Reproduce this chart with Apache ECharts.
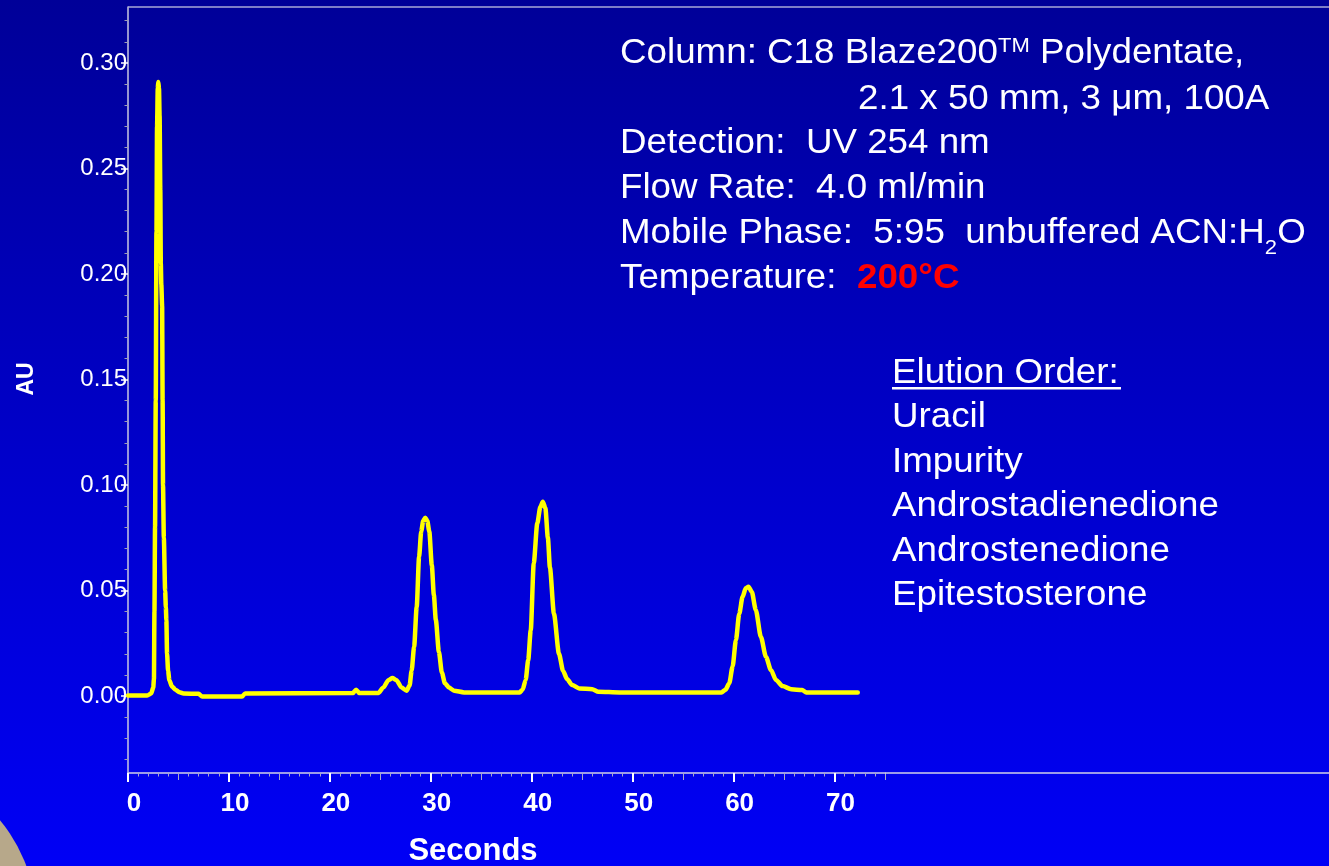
<!DOCTYPE html>
<html>
<head>
<meta charset="utf-8">
<script src="https://cdn.jsdelivr.net/npm/echarts@6/dist/echarts.min.js"></script>
<style>
html,body{margin:0;padding:0;overflow:hidden;}
#chart{width:1329px;height:866px;background:linear-gradient(to bottom,#000098 0%,#0000c8 50%,#0000f6 100%);}
</style>
</head>
<body>
<div id="chart"></div>
<script>
// ---- data (seconds, AU) ----
const timeSec = [
  0, 1.9, 2.3, 2.5, 2.57, 2.62, 2.68, 2.75, 2.82, 2.88, 2.95, 3.0, 3.07, 3.13, 3.2, 3.25, 3.3, 3.38, 3.43, 3.47,
  3.55, 3.68, 3.75, 3.8, 3.87, 3.97, 4.1, 4.35, 4.7, 5.1, 5.5, 7.0, 7.35, 11.3, 11.6,
  22.3, 22.6, 22.9, 24.8, 25.3, 25.8, 26.2, 26.6, 27.1, 27.6,
  27.9, 28.1, 28.35, 28.6, 28.84, 29.05, 29.25, 29.45, 29.65, 29.85, 30.1, 30.3, 30.5, 30.8, 31.1, 31.4, 31.8, 32.3, 33.3,
  38.8, 39.1, 39.4, 39.65, 39.9, 40.2, 40.55, 40.85, 41.1, 41.35, 41.6, 41.8, 42.2, 42.7, 43.1, 43.5, 44.0, 44.7, 46.0, 46.6, 48.7,
  58.8, 59.2, 59.57, 59.9, 60.23, 60.56, 60.89, 61.2, 61.48, 61.8, 62.2, 62.7, 63.2, 63.7, 64.2, 64.85, 65.7, 66.8, 67.2, 72.3
];
const absorbanceAU = [
  0.0002, 0.0002, 0.0012, 0.004, 0.008, 0.04, 0.08, 0.14, 0.22, 0.27, 0.288, 0.291, 0.288, 0.275, 0.24, 0.205, 0.195, 0.185, 0.14, 0.10,
  0.075, 0.05, 0.042, 0.036, 0.02, 0.012, 0.0075, 0.0045, 0.003, 0.0018, 0.0012, 0.0010, -0.0003, -0.0003, 0.0012,
  0.0014, 0.003, 0.0014, 0.0014, 0.004, 0.0075, 0.0085, 0.0075, 0.004, 0.0025,
  0.005, 0.012, 0.0234, 0.042, 0.066, 0.078, 0.083, 0.0845, 0.083, 0.078, 0.062, 0.048, 0.036, 0.021, 0.011, 0.006, 0.004, 0.0025, 0.0017,
  0.0017, 0.003, 0.0076, 0.017, 0.031, 0.0629, 0.0818, 0.0895, 0.092, 0.089, 0.075, 0.061, 0.039, 0.020, 0.012, 0.008, 0.0052, 0.0036, 0.0032, 0.002, 0.0017,
  0.0017, 0.003, 0.006, 0.0139, 0.0265, 0.039, 0.047, 0.051, 0.0518, 0.0494, 0.0408, 0.0281, 0.0186, 0.0123, 0.0076, 0.0047, 0.0032, 0.0028, 0.0017, 0.0017
];

// ---- tick values ----
const yTickValues = [0, 0.05, 0.10, 0.15, 0.20, 0.25, 0.30];
const yMinorTicks = [-0.03, -0.02, -0.01, 0.01, 0.02, 0.03, 0.04, 0.06, 0.07, 0.08, 0.09, 0.11, 0.12, 0.13, 0.14,
  0.16, 0.17, 0.18, 0.19, 0.21, 0.22, 0.23, 0.24, 0.26, 0.27, 0.28, 0.29, 0.31, 0.32];
const xTickValues = [0, 10, 20, 30, 40, 50, 60, 70];
const xMidTicks = [5, 15, 25, 35, 45, 55, 65, 75];
const xMinorTicks = [];
for (let s = 1; s < 75; s++) { if (s % 5 !== 0) xMinorTicks.push(s); }

// ---- annotation text ----
const columnLine1a = 'Column: C18 Blaze200';
const columnLine1b = 'TM';
const columnLine1c = ' Polydentate,';
const columnLine2 = '2.1 x 50 mm, 3 \u03BCm, 100A';
const detectionLine = 'Detection:  UV 254 nm';
const flowLine = 'Flow Rate:  4.0 ml/min';
const mobileLineA = 'Mobile Phase:  5:95  unbuffered ACN:H';
const mobileLineSub = '2';
const mobileLineB = 'O';
const tempLabel = 'Temperature:  ';
const tempValue = '200\u00B0C';
const elutionTitle = 'Elution Order:';
const elutionOrder = ['Uracil', 'Impurity', 'Androstadienedione', 'Androstenedione', 'Epitestosterone'];

const FONT = '"Liberation Sans", Arial, sans-serif';
const chart = echarts.init(document.getElementById('chart'), null, {renderer: 'canvas'});

function textEl(str, x, y, extra) {
  return Object.assign({
    type: 'text', x: x, y: y, scaleX: 1.05, z: 10, silent: true,
    style: {text: str, fill: '#ffffff', fontSize: 35, fontFamily: FONT, verticalAlign: 'middle', align: 'left'}
  }, extra || {});
}

const graphics = [
  {type: 'circle', shape: {cx: -120, cy: 920, r: 156}, style: {fill: '#b7a88a'}, z: 1, silent: true},
  {type: 'line', shape: {x1: 128, y1: 7, x2: 1329, y2: 7}, style: {stroke: '#a8a8d8', lineWidth: 1.5}, z: 3, silent: true},
  {type: 'line', shape: {x1: 885, y1: 773, x2: 1329, y2: 773}, style: {stroke: '#d0d0e8', lineWidth: 1.5}, z: 3, silent: true},
  {
    type: 'text', x: 620, y: 53, scaleX: 1.05, z: 10, silent: true,
    style: {
      text: '{n|' + columnLine1a + '}{s|' + columnLine1b + '}{n|' + columnLine1c + '}',
      verticalAlign: 'middle', align: 'left',
      rich: {
        n: {fontSize: 35, lineHeight: 35, fill: '#fff', color: '#fff', fontFamily: FONT},
        s: {fontSize: 21, lineHeight: 24, fill: '#fff', color: '#fff', fontFamily: FONT, verticalAlign: 'top'}
      }
    }
  },
  textEl(columnLine2, 858, 99),
  textEl(detectionLine, 620, 143),
  textEl(flowLine, 620, 188),
  {
    type: 'text', x: 620, y: 233, scaleX: 1.05, z: 10, silent: true,
    style: {
      text: '{n|' + mobileLineA + '}{b|' + mobileLineSub + '}{n|' + mobileLineB + '}',
      verticalAlign: 'middle', align: 'left',
      rich: {
        n: {fontSize: 35, lineHeight: 52, fill: '#fff', color: '#fff', fontFamily: FONT},
        b: {fontSize: 21, lineHeight: 24, fill: '#fff', color: '#fff', fontFamily: FONT, verticalAlign: 'bottom'}
      }
    }
  },
  {
    type: 'text', x: 620, y: 278, scaleX: 1.05, z: 10, silent: true,
    style: {
      text: '{n|' + tempLabel + '}{r|' + tempValue + '}',
      verticalAlign: 'middle', align: 'left',
      rich: {
        n: {fontSize: 35, lineHeight: 35, fill: '#fff', color: '#fff', fontFamily: FONT},
        r: {fontSize: 35, lineHeight: 35, fill: '#ff0000', color: '#ff0000', fontFamily: FONT, fontWeight: 'bold'}
      }
    }
  },
  textEl(elutionTitle, 892, 373),
  {type: 'rect', shape: {x: 892, y: 387, width: 229, height: 2.5}, style: {fill: '#ffffff'}, z: 10, silent: true}
];
elutionOrder.forEach(function (name, i) {
  graphics.push(textEl(name, 892, 417.5 + i * 44.5));
});

const option = {
  backgroundColor: 'transparent',
  animation: false,
  grid: {left: 128, top: 7, width: 757, height: 766, containLabel: false, outerBoundsMode: 'none'},
  xAxis: [
    {
      type: 'value', min: 0, max: 75, position: 'bottom',
      axisLine: {show: true, onZero: false, lineStyle: {color: '#d0d0e8', width: 1.5}},
      axisTick: {show: true, customValues: xTickValues, length: 9, lineStyle: {color: '#ffffff', width: 2}},
      axisLabel: {customValues: xTickValues, color: '#ffffff', fontSize: 26, fontWeight: 'bold', fontFamily: FONT, margin: 18, padding: [0, 0, 0, 12]},
      splitLine: {show: false},
      name: 'Seconds', nameLocation: 'middle', nameGap: 63,
      nameTextStyle: {color: '#ffffff', fontSize: 31, fontWeight: 'bold', fontFamily: FONT, padding: [0, 67, 0, 0]}
    },
    {
      type: 'value', min: 0, max: 75, position: 'bottom',
      axisLine: {show: false, onZero: false},
      axisTick: {show: true, customValues: xMinorTicks, length: 3.5, lineStyle: {color: '#a8a8c8', width: 1}},
      axisLabel: {show: false},
      splitLine: {show: false}
    },
    {
      type: 'value', min: 0, max: 75, position: 'bottom',
      axisLine: {show: false, onZero: false},
      axisTick: {show: true, customValues: xMidTicks, length: 7, lineStyle: {color: '#a8a8c8', width: 1}},
      axisLabel: {show: false},
      splitLine: {show: false}
    }
  ],
  yAxis: [
    {
      type: 'value', min: -0.0365, max: 0.3265, position: 'left',
      axisLine: {show: true, onZero: false, lineStyle: {color: '#c8c8e0', width: 1.5}},
      axisTick: {show: true, customValues: yTickValues, length: 7, lineStyle: {color: '#ffffff', width: 1.5}},
      axisLabel: {customValues: yTickValues, formatter: function (v) { return v.toFixed(2); }, color: '#ffffff', fontSize: 24, fontFamily: FONT, margin: 1, padding: [5, 0, 0, 0]},
      splitLine: {show: false},
      name: 'AU', nameLocation: 'middle', nameRotate: 90, nameGap: 90,
      nameTextStyle: {color: '#ffffff', fontSize: 23, fontWeight: 'bold', fontFamily: FONT, padding: [0, 0, 0, 22]}
    },
    {
      type: 'value', min: -0.0365, max: 0.3265, position: 'left', offset: 0,
      axisLine: {show: false, onZero: false},
      axisTick: {show: true, customValues: yMinorTicks, length: 3.5, lineStyle: {color: '#9c9cb8', width: 1}},
      axisLabel: {show: false},
      splitLine: {show: false}
    }
  ],
  series: [{
    type: 'line',
    xAxisIndex: 0, yAxisIndex: 0,
    data: timeSec.map(function (t, i) { return [t, absorbanceAU[i]]; }),
    showSymbol: false,
    smooth: 0.25, smoothMonotone: 'x',
    lineStyle: {color: '#ffff00', width: 4.5, join: 'round', cap: 'round'},
    z: 5
  }],
  graphic: graphics
};
chart.setOption(option);
</script>
</body>
</html>
